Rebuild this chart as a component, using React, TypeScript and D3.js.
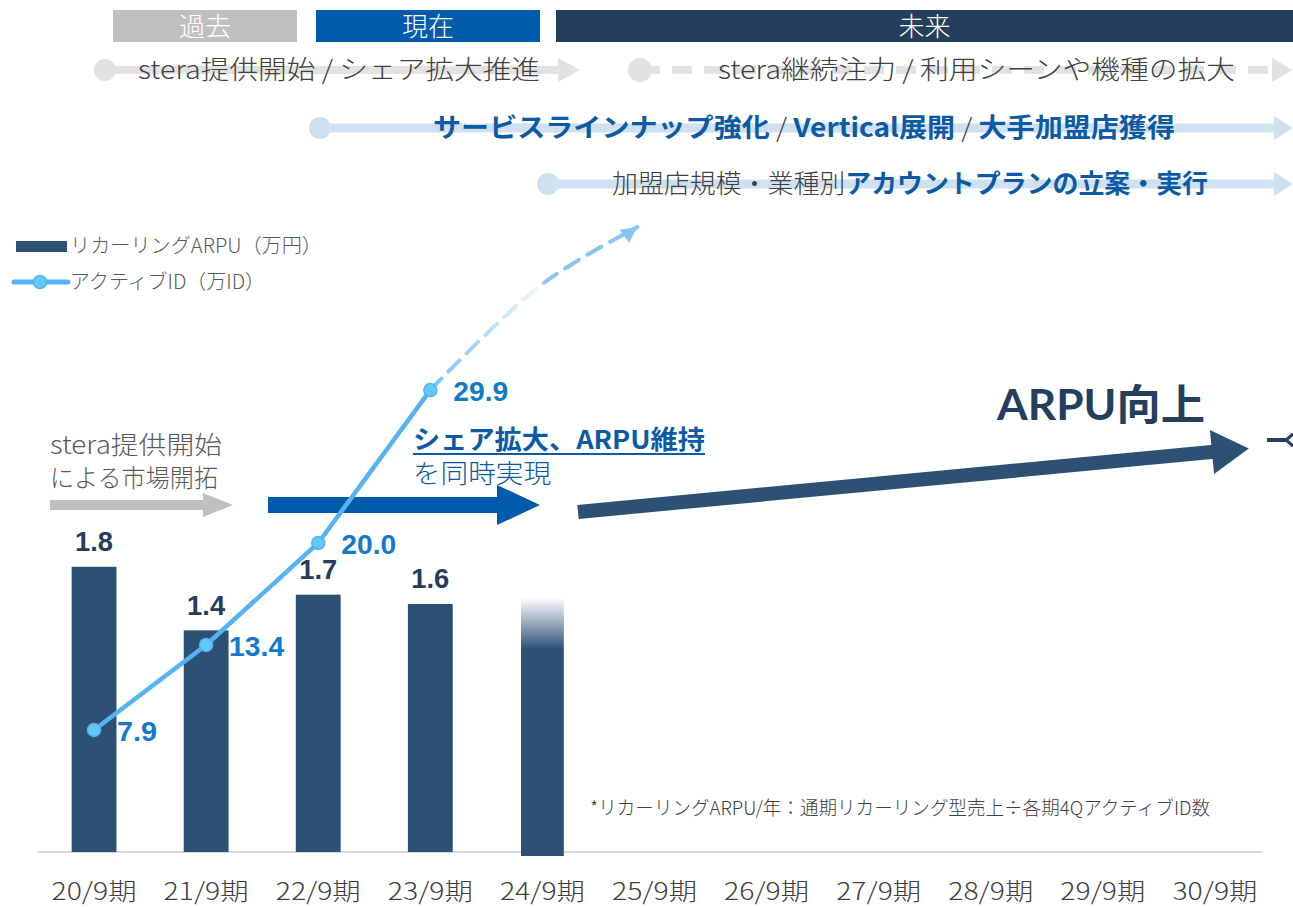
import React from "react";
import * as d3 from "d3";

// ---------- data ----------
const categories = ["20/9期", "21/9期", "22/9期", "23/9期", "24/9期", "25/9期", "26/9期", "27/9期", "28/9期", "29/9期", "30/9期"];
const arpuCategories = ["20/9期", "21/9期", "22/9期", "23/9期", "24/9期"];
const arpuValues = [1.84, 1.43, 1.66, 1.6, 1.64];
const arpuShowLabel = [true, true, true, true, false];
const idCategories = ["20/9期", "21/9期", "22/9期", "23/9期"];
const idValues = [7.9, 13.4, 20.0, 29.9];
const phases = ["過去", "現在", "未来"];
const legendLabels = ["リカーリングARPU（万円）", "アクティブID（万ID）"];
const footnote = "*リカーリングARPU/年：通期リカーリング型売上÷各期4QアクティブID数";

// ---------- styles ----------
const JP = "'Noto Sans CJK JP', 'Noto Sans', sans-serif";
const NUM = "'Liberation Sans', Arial, sans-serif";
const C = {
  bar: "#2c5174",
  barLabel: "#253d5b",
  line: "#55b3f3",
  marker: "#62c9f7",
  idLabel: "#1279cc",
  navy: "#243f5e",
  blue: "#005bac",
  blueText: "#0c5aa6",
  gray: "#bfbfbf",
  lightGray: "#e2e2e2",
  lightBlue: "#cfe0f1",
  text: "#404040",
  axis: "#d9d9d9",
};
const LIGHT = 300;

export default function App() {
  const W = 1293, H = 907;
  const baseY = 852;
  const x = d3.scaleBand<string>().domain(categories).range([38, 1271]).paddingInner(0.6).paddingOuter(0.3);
  const cx = (c: string) => (x(c) as number) + x.bandwidth() / 2;
  const yBar = d3.scaleLinear().domain([0, 2]).range([baseY, 542]);
  const yLine = d3.scaleLinear().domain([0, 40]).range([baseY, 234]);

  const linePts: [number, number][] = idCategories.map((c, i) => [cx(c), yLine(idValues[i])]);
  const linePath = d3.line()(linePts) as string;

  // projected dashed extension from the last point
  const [lx, ly] = linePts[linePts.length - 1];
  const extPts: [number, number][] = [
    [lx, ly],
    [lx + 112, ly - 106],
    [lx + 207, ly - 163],
  ];
  const extPath = d3.line().curve(d3.curveCatmullRom)(extPts) as string;
  const tip = extPts[extPts.length - 1];

  // ARPU arrow geometry
  const a0: [number, number] = [578, 512];
  const a1: [number, number] = [1212, 452];
  const ang = Math.atan2(a1[1] - a0[1], a1[0] - a0[0]);
  const ux = Math.cos(ang), uy = Math.sin(ang);
  const nx = -uy, ny = ux;
  const arTip: [number, number] = [a1[0] + ux * 37, a1[1] + uy * 37];
  const headPts = [
    [a1[0] + nx * 22, a1[1] + ny * 22],
    arTip,
    [a1[0] - nx * 22, a1[1] - ny * 22],
  ].map((p) => p.join(",")).join(" ");

  const bar24 = arpuCategories[4];

  return (
    <svg width={W} height={H} style={{ position: "absolute", left: 0, top: 0, background: "#fff" }}>
      <defs>
        <linearGradient id="fadeBar" x1="0" y1="0" x2="0" y2="1" gradientUnits="objectBoundingBox">
          <stop offset="0" stopColor={C.bar} stopOpacity={0} />
          <stop offset="0.2" stopColor={C.bar} stopOpacity={1} />
          <stop offset="1" stopColor={C.bar} stopOpacity={1} />
        </linearGradient>
        <linearGradient id="extGrad" gradientUnits="userSpaceOnUse" x1={lx} y1={ly} x2={tip[0]} y2={tip[1]}>
          <stop offset="0" stopColor="#78c0f4" />
          <stop offset="0.56" stopColor="#eef6fd" />
          <stop offset="0.6" stopColor="#84c5f4" />
          <stop offset="1" stopColor="#84c5f4" />
        </linearGradient>
      </defs>

      {/* phase header */}
      {phases.map((p, i) => {
        const boxes = [
          [113, 297, C.gray],
          [316, 540, C.blue],
          [556, 1293, C.navy],
        ][i] as [number, number, string];
        return (
          <g key={p}>
            <rect x={boxes[0]} y={10} width={boxes[1] - boxes[0]} height={32} fill={boxes[2]} />
            <text x={(boxes[0] + boxes[1]) / 2} y={27} dy="0.35em" textAnchor="middle" fill="#fff" fontFamily={JP} fontWeight={LIGHT} fontSize={26}>
              {p}
            </text>
          </g>
        );
      })}

      {/* timeline row 1 */}
      <line x1={105} y1={70} x2={560} y2={70} stroke={C.lightGray} strokeWidth={8} />
      <circle cx={105} cy={70} r={11} fill={C.lightGray} />
      <polygon points="558,58 580,70 558,82" fill={C.lightGray} />
      <line x1={640} y1={70} x2={1272} y2={70} stroke={C.lightGray} strokeWidth={8} strokeDasharray="20 12" />
      <circle cx={640} cy={70} r={12} fill={C.lightGray} />
      <polygon points="1272,58 1293,70 1272,82" fill={C.lightGray} />
      <text x={138} y={70} dy="0.35em" fontFamily={JP} fontWeight={LIGHT} fontSize={26} fill={C.text} textLength={402} lengthAdjust="spacingAndGlyphs">
        stera提供開始 / シェア拡大推進
      </text>
      <text x={718} y={70} dy="0.35em" fontFamily={JP} fontWeight={LIGHT} fontSize={26} fill={C.text} textLength={517} lengthAdjust="spacingAndGlyphs">
        stera継続注力 / 利用シーンや機種の拡大
      </text>

      {/* timeline row 2 */}
      <line x1={320} y1={128} x2={1276} y2={128} stroke={C.lightBlue} strokeWidth={9} />
      <circle cx={320} cy={128} r={11} fill={C.lightBlue} />
      <polygon points="1274,116 1293,128 1274,140" fill={C.lightBlue} />
      <text x={433} y={128} dy="0.35em" fontFamily={JP} fontSize={26} fontWeight="bold" fill={C.blueText} textLength={742} lengthAdjust="spacingAndGlyphs">
        サービスラインナップ強化
        <tspan fontWeight={LIGHT} fill={C.text}> / </tspan>
        Vertical展開
        <tspan fontWeight={LIGHT} fill={C.text}> / </tspan>
        大手加盟店獲得
      </text>

      {/* timeline row 3 */}
      <line x1={548} y1={184} x2={1276} y2={184} stroke={C.lightBlue} strokeWidth={9} />
      <circle cx={548} cy={184} r={11} fill={C.lightBlue} />
      <polygon points="1274,172 1293,184 1274,196" fill={C.lightBlue} />
      <text x={612} y={184} dy="0.35em" fontFamily={JP} fontWeight={LIGHT} fontSize={26} fill={C.text} textLength={596} lengthAdjust="spacingAndGlyphs">
        加盟店規模・業種別
        <tspan fontWeight="bold" fill={C.blueText}>アカウントプランの立案・実行</tspan>
      </text>

      {/* legend */}
      <rect x={16} y={241} width={51} height={11} fill={C.bar} />
      <text x={70} y={246} dy="0.35em" fontFamily={JP} fontWeight={LIGHT} fontSize={20} fill="#595959" textLength={252} lengthAdjust="spacingAndGlyphs">
        {legendLabels[0]}
      </text>
      <line x1={14} y1={282} x2={68} y2={282} stroke={C.line} strokeWidth={5} strokeLinecap="round" />
      <circle cx={40} cy={282} r={6.5} fill={C.marker} stroke={C.line} strokeWidth={1.5} />
      <text x={70} y={282} dy="0.35em" fontFamily={JP} fontWeight={LIGHT} fontSize={20} fill="#595959" textLength={195} lengthAdjust="spacingAndGlyphs">
        {legendLabels[1]}
      </text>

      {/* axis line */}
      <line x1={38} y1={baseY} x2={1262} y2={baseY} stroke={C.axis} strokeWidth={2} />

      {/* bars */}
      {arpuCategories.map((c, i) => {
        const isFuture = c === bar24;
        const top = yBar(arpuValues[i]);
        return (
          <rect
            key={c}
            x={isFuture ? (x(c) as number) + 1 : (x(c) as number)}
            y={top}
            width={isFuture ? x.bandwidth() - 2 : x.bandwidth()}
            height={baseY - top + (isFuture ? 4 : 0)}
            fill={isFuture ? "url(#fadeBar)" : C.bar}
          />
        );
      })}
      {arpuCategories.map((c, i) =>
        arpuShowLabel[i] ? (
          <text key={c} x={cx(c)} y={yBar(arpuValues[i]) - 25} dy="0.35em" textAnchor="middle" fontFamily={NUM} fontWeight="bold" fontSize={27} fill={C.barLabel} textLength={38} lengthAdjust="spacingAndGlyphs">
            {d3.format(".1f")(arpuValues[i])}
          </text>
        ) : null
      )}

      {/* annotations */}
      <text x={50} y={445} dy="0.35em" fontFamily={JP} fontWeight={LIGHT} fontSize={25} fill="#595959" textLength={172} lengthAdjust="spacingAndGlyphs">stera提供開始</text>
      <text x={50} y={478} dy="0.35em" fontFamily={JP} fontWeight={LIGHT} fontSize={25} fill="#595959" textLength={168} lengthAdjust="spacingAndGlyphs">による市場開拓</text>
      <rect x={50} y={500} width={155} height={10} fill={C.gray} />
      <polygon points="203,493 233,505 203,517" fill={C.gray} />

      <rect x={268} y={497} width={232} height={16} fill={C.blue} />
      <polygon points="497,485 540,505 497,525" fill={C.blue} />

      <text x={413} y={440} dy="0.35em" fontFamily={JP} fontWeight="bold" fontSize={26} fill={C.blueText} textLength={292} lengthAdjust="spacingAndGlyphs">
        シェア拡大、ARPU維持
      </text>
      <line x1={413} y1={454} x2={705} y2={454} stroke={C.blueText} strokeWidth={2} />
      <text x={413} y={474} dy="0.35em" fontFamily={JP} fontWeight={LIGHT} fontSize={26} fill={C.blueText} textLength={138} lengthAdjust="spacingAndGlyphs">
        を同時実現
      </text>

      <line x1={a0[0]} y1={a0[1]} x2={a1[0] + ux * 2} y2={a1[1] + uy * 2} stroke={C.bar} strokeWidth={14} />
      <polygon points={headPts} fill={C.bar} />
      <text x={997} y={405} dy="0.35em" fontFamily={"Lato, " + JP} fontWeight="bold" fontSize={42} fill={C.navy} textLength={208} lengthAdjust="spacingAndGlyphs">
        ARPU向上
      </text>
      <line x1={1267} y1={440} x2={1287} y2={440} stroke={C.navy} strokeWidth={4} />
      <polyline points="1293,434 1286,440 1293,446" fill="none" stroke={C.navy} strokeWidth={3} />

      {/* active ID line */}
      <path d={extPath} fill="none" stroke="url(#extGrad)" strokeWidth={4} strokeDasharray="16 10" strokeLinecap="round" />
      <polygon
        points={(() => {
          const dx = tip[0] - extPts[1][0], dy = tip[1] - extPts[1][1];
          const a = Math.atan2(dy, dx) - 0.08;
          const bx = tip[0] - Math.cos(a) * 16, by = tip[1] - Math.sin(a) * 16;
          const px = -Math.sin(a) * 8, py = Math.cos(a) * 8;
          return [[tip[0], tip[1]], [bx + px, by + py], [bx - px, by - py]].map((p) => p.join(",")).join(" ");
        })()}
        fill="#84c5f4"
      />
      <path d={linePath} fill="none" stroke={C.line} strokeWidth={4.5} />
      {linePts.map((p, i) => (
        <circle key={i} cx={p[0]} cy={p[1]} r={6.5} fill={C.marker} stroke={C.line} strokeWidth={1.5} />
      ))}
      {linePts.map((p, i) => (
        <text key={"l" + i} x={p[0] + 23} y={p[1] + 2} dy="0.35em" fontFamily={NUM} fontWeight="bold" fontSize={27} fill={C.idLabel} textLength={i === 0 ? 40 : 55} lengthAdjust="spacingAndGlyphs">
          {d3.format(".1f")(idValues[i])}
        </text>
      ))}

      {/* footnote */}
      <text x={590} y={808} dy="0.35em" fontFamily={JP} fontWeight={LIGHT} fontSize={19} fill={C.text} textLength={620} lengthAdjust="spacingAndGlyphs">
        {footnote}
      </text>

      {/* x axis labels */}
      {categories.map((c) => (
        <text key={c} x={cx(c)} y={892} dy="0.35em" textAnchor="middle" fontFamily={JP} fontWeight={LIGHT} fontSize={24} fill={C.text} textLength={85} lengthAdjust="spacingAndGlyphs">
          {c}
        </text>
      ))}
    </svg>
  );
}
